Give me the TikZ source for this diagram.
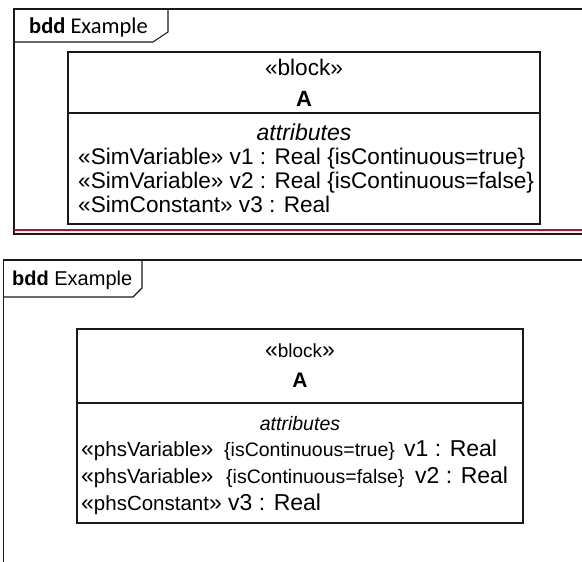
\documentclass[tikz,border=0pt]{standalone}
\usepackage{fontspec}
\setmainfont{Liberation Sans}
\newfontfamily\calib{Carlito}
\definecolor{sepred}{RGB}{180,16,48}
\newcommand{\gq}[1]{{\fontsize{23}{23}\selectfont #1}}
\begin{document}
\begin{tikzpicture}[x=1pt,y=-1pt,
  frameline/.style={draw=black!90, line width=1.1pt},
  blockline/.style={draw=black!90, line width=1.3pt},
  txt/.style={inner sep=0pt, anchor=base},
  txtw/.style={inner sep=0pt, anchor=base west},
  big/.style={font=\fontsize{22.6}{27}\selectfont},
  vbig/.style={font=\fontsize{23}{27}\selectfont},
  mid/.style={font=\fontsize{19.5}{23}\selectfont}]
\useasboundingbox (0,0) rectangle (582,562);
% ---------- top frame ----------
\draw[frameline] (582,9) -- (14,9) -- (14,234) -- (582,234);
\draw[frameline] (14,42) -- (153,42) -- (168,32) -- (168,9);
\node[txtw, font=\calib\fontsize{22.5}{26}\selectfont] (t1) at (29,34) {\textbf{bdd} Example};
\draw[sepred, line width=1.6pt] (14,230) -- (582,230);
% block A (top)
\draw[blockline] (68,52) rectangle (540,224);
\draw[blockline] (68,113) -- (540,113);
\node[txt, big] (s1) at (304,75) {«block»};
\node[txt, font=\bfseries\fontsize{22}{26}\selectfont] (n1) at (304,106) {A};
\node[txt, font=\itshape\fontsize{23}{27}\selectfont] (a1) at (304,140) {attributes};
\node[txtw, big] (r11) at (78,164) {«SimVariable» v1 : Real \{isContinuous=true\}};
\node[txtw, big] (r12) at (78,188) {«SimVariable» v2 : Real \{isContinuous=false\}};
\node[txtw, big] (r13) at (78,212) {«SimConstant» v3 : Real};
% ---------- bottom frame ----------
\draw[frameline] (582,260) -- (3.5,260) -- (3.5,562);
\draw[frameline] (3.5,297) -- (133,297) -- (142,288) -- (142,260);
\node[txtw, font=\fontsize{20}{24}\selectfont] (t2) at (12,285) {\textbf{bdd} Example};
% block A (bottom)
\draw[blockline] (77,329) rectangle (523,523);
\draw[blockline] (77,403) -- (523,403);
\node[txt, font=\fontsize{19}{23}\selectfont] (s2) at (300,357) {\gq{«}block\gq{»}};
\node[txt, font=\bfseries\fontsize{21}{25}\selectfont] (n2) at (300,387) {A};
\node[txt, font=\itshape\fontsize{19.5}{23}\selectfont] (a2) at (300,430) {attributes};
\node[txtw, font=\fontsize{20.5}{23}\selectfont] (p1) at (81,456) {\gq{«}phsVariable\gq{»}};
\node[txtw, mid] (c1) at (224,456) {\{isContinuous=true\}};
\node[txtw, vbig] (v1) at (404,456) {v1 : Real};
\node[txtw, font=\fontsize{20.5}{23}\selectfont] (p2) at (81,483) {\gq{«}phsVariable\gq{»}};
\node[txtw, mid] (c2) at (226,483) {\{isContinuous=false\}};
\node[txtw, vbig] (v2) at (415,483) {v2 : Real};
\node[txtw, font=\fontsize{20.5}{23}\selectfont] (p3) at (81,510) {\gq{«}phsConstant\gq{»}};
\node[txtw, vbig] (v3) at (228,510) {v3 : Real};
\end{tikzpicture}
\end{document}
